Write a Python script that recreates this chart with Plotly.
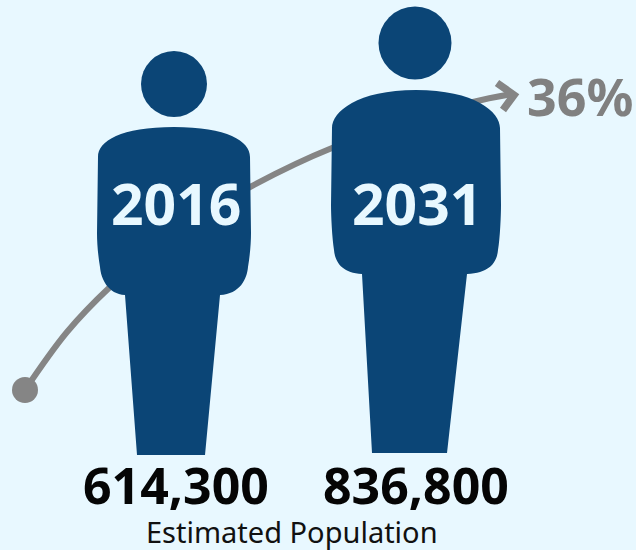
import plotly.graph_objects as go

# Content
years = ["2016", "2031"]
populations = ["614,300", "836,800"]
growth_label = "36%"
caption = "Estimated Population"

# Pictogram geometry, in the 636x550 picture's coordinates
head_cx = [174, 415]
head_cy = [84, 43]
head_r = [33, 36.5]
body_left = [98, 332]
body_right = [250, 500]
body_top = [127, 90]
shoulder_y = [157, 128]
hip_y = [233, 205]
waist_y = [267, 250]
torso_bottom = [295, 274]
leg_top_left = [125, 362]
leg_top_right = [220, 467]
leg_bottom_left = [137, 372]
leg_bottom_right = [205, 447]
leg_bottom = [455, 453]

# Growth curve
curve_x = [25, 67, 110, 175, 250, 332, 410, 473, 512]
curve_y = [390, 332, 287, 232, 187, 148, 122, 102, 94]
arrow_x = [497, 514, 503]
arrow_y = [83, 95, 110]

NAVY = "#0B4576"
GREY = "#858585"
BG = "#E8F8FF"


def body_path(i):
    l, r, t = body_left[i], body_right[i], body_top[i]
    s, h, w, b = shoulder_y[i], hip_y[i], waist_y[i], torso_bottom[i]
    c = (l + r) / 2
    tl, tr = leg_top_left[i], leg_top_right[i]
    bl, br, bb = leg_bottom_left[i], leg_bottom_right[i], leg_bottom[i]
    span = r - l
    return (
        f"M{bl},{bb} L{tl},{b} "
        f"C{l + 10},{b - 1} {l + 3},{w + 12} {l + 2},{w} "
        f"C{l},{w - 12} {l - 1},{h + 10} {l - 1},{h} "
        f"L{l},{s} "
        f"C{l},{s - 16} {l + span * 0.15},{t} {c},{t} "
        f"C{r - span * 0.15},{t} {r},{s - 16} {r},{s} "
        f"L{r + 1},{h} "
        f"C{r + 1},{h + 10} {r},{w - 12} {r - 2},{w} "
        f"C{r - 3},{w + 12} {r - 10},{b - 1} {tr},{b} "
        f"L{br},{bb} Z"
    )


fig = go.Figure()
fig.add_trace(go.Scatter(x=curve_x, y=curve_y, mode="lines",
                         line=dict(color=GREY, width=6, shape="spline"),
                         hoverinfo="skip"))
fig.add_trace(go.Scatter(x=arrow_x, y=arrow_y, mode="lines",
                         line=dict(color=GREY, width=7.5),
                         hoverinfo="skip"))
fig.add_trace(go.Scatter(x=curve_x[:1], y=curve_y[:1], mode="markers",
                         marker=dict(color=GREY, size=26, line=dict(width=0)),
                         hoverinfo="skip"))

shapes = []
for i in range(len(years)):
    shapes.append(dict(type="circle", xref="x", yref="y",
                       x0=head_cx[i] - head_r[i], x1=head_cx[i] + head_r[i],
                       y0=head_cy[i] - head_r[i], y1=head_cy[i] + head_r[i],
                       fillcolor=NAVY, line=dict(width=0)))
    shapes.append(dict(type="path", xref="x", yref="y", path=body_path(i),
                       fillcolor=NAVY, line=dict(width=0)))

FONT = "Noto Sans"
year_x = [176, 417]
pop_x = [176, 416]
annotations = []
for i in range(len(years)):
    annotations.append(dict(x=year_x[i], y=203, text=f"<b>{years[i]}</b>", showarrow=False,
                            xanchor="center", yanchor="middle",
                            font=dict(family=FONT, size=57, color=BG)))
    annotations.append(dict(x=pop_x[i], y=485, text=f"<b>{populations[i]}</b>", showarrow=False,
                            xanchor="center", yanchor="middle",
                            font=dict(family=FONT, size=50, color="#050505")))
annotations.append(dict(x=580, y=95, text=f"<b>{growth_label}</b>", showarrow=False,
                        xanchor="center", yanchor="middle",
                        font=dict(family=FONT, size=52, color="#808080")))
annotations.append(dict(x=292, y=531, text=caption, showarrow=False,
                        xanchor="center", yanchor="middle",
                        font=dict(family=FONT, size=29, color="#111111")))

fig.update_layout(
    width=636, height=550, autosize=False,
    margin=dict(l=0, r=0, t=0, b=0),
    paper_bgcolor=BG, plot_bgcolor=BG,
    showlegend=False,
    shapes=shapes, annotations=annotations,
    xaxis=dict(range=[0, 636], visible=False, fixedrange=True),
    yaxis=dict(range=[550, 0], visible=False, fixedrange=True),
)
fig.write_html("out.html", config=dict(displayModeBar=False),
               post_script="document.body.style.margin='0';document.body.style.overflow='hidden';document.body.style.background='#E8F8FF';")
